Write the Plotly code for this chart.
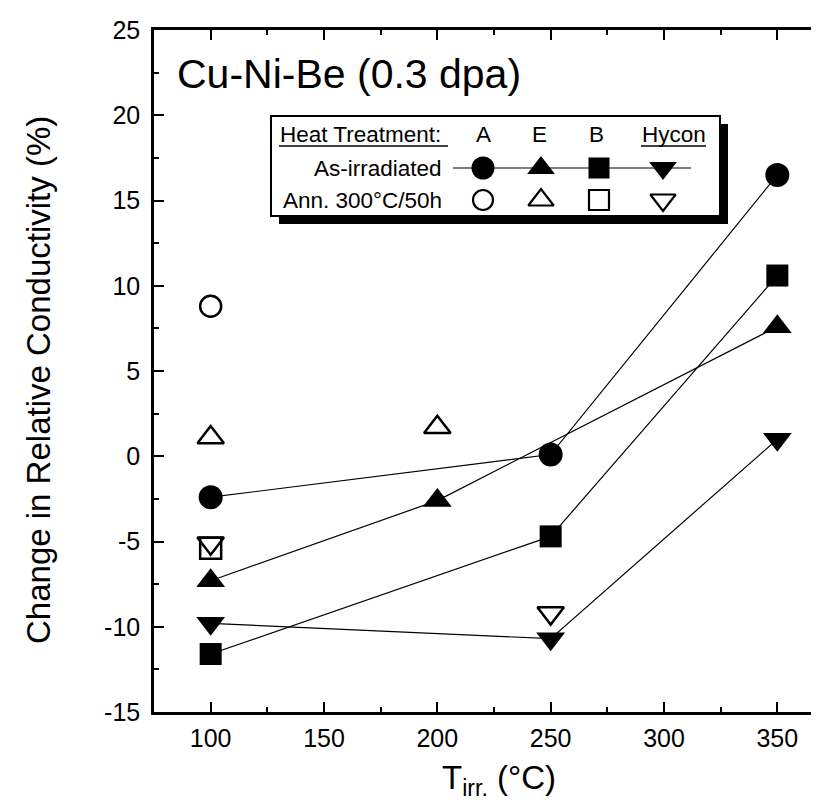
import plotly.graph_objects as go

# ---------------- data ----------------
x_A = [100, 250, 350]
y_A = [-2.4, 0.1, 16.5]
x_E = [100, 200, 350]
y_E = [-7.3, -2.6, 7.6]
x_B = [100, 250, 350]
y_B = [-11.6, -4.7, 10.6]
x_H = [100, 250, 350]
y_H = [-9.8, -10.7, 1.0]

x_A_ann = [100]
y_A_ann = [8.8]
x_E_ann = [100, 200]
y_E_ann = [1.1, 1.7]
x_B_ann = [100]
y_B_ann = [-5.4]
x_H_ann = [100, 250]
y_H_ann = [-5.1, -9.2]

x_ticks = [100, 150, 200, 250, 300, 350]
y_ticks = [-15, -10, -5, 0, 5, 10, 15, 20, 25]

# ---------------- layout constants ----------------
W, H = 819, 807
ML, MR, MT, MB = 146, 0, 22, 103
X0 = 75.0
X_PX_PER_UNIT = 680.0 / 300.0
X1 = X0 + (W - ML - MR) / X_PX_PER_UNIT
Y0, Y1 = -15.0, 25.0
PLOT_H = H - MT - MB
Y_PX_PER_UNIT = PLOT_H / (Y1 - Y0)

FONT = "Liberation Sans, Arial, Helvetica, sans-serif"


def px2x(px):
    return X0 + (px - ML) / X_PX_PER_UNIT


def px2y(py):
    return Y0 + (H - MB - py) / Y_PX_PER_UNIT


def px2paperx(px):
    return (px - ML) / (W - ML - MR)


def px2papery(py):
    return (H - MB - py) / PLOT_H


fig = go.Figure()

line_style = dict(color="black", width=1.2)

series = [
    (x_A, y_A, "circle", 24),
    (x_E, y_E, "triangle-up", 25),
    (x_B, y_B, "square", 22),
    (x_H, y_H, "triangle-down", 25),
]
for xs, ys, sym, sz in series:
    fig.add_trace(go.Scatter(
        x=xs, y=ys, mode="lines+markers",
        line=line_style,
        marker=dict(symbol=sym, size=sz, color="black", line=dict(width=0)),
        showlegend=False, cliponaxis=False,
    ))

open_series = [
    (x_A_ann, y_A_ann, "circle-open", 21),
    (x_E_ann, y_E_ann, "triangle-up-open", 23),
    (x_B_ann, y_B_ann, "square-open", 21),
    (x_H_ann, y_H_ann, "triangle-down-open", 23),
]
for xs, ys, sym, sz in open_series:
    fig.add_trace(go.Scatter(
        x=xs, y=ys, mode="markers",
        marker=dict(symbol=sym, size=sz, color="black", line=dict(width=2.5, color="black")),
        showlegend=False, cliponaxis=False,
    ))

# ---------------- custom legend box ----------------
box_l, box_t, box_r, box_b = 263, 108, 712, 208
shadow = 8
shapes = [
    dict(type="rect", xref="x", yref="y", layer="below",
         x0=px2x(box_l + shadow), x1=px2x(box_r + shadow),
         y0=px2y(box_t + shadow), y1=px2y(box_b + shadow),
         fillcolor="black", line=dict(width=0)),
    dict(type="rect", xref="x", yref="y", layer="below",
         x0=px2x(box_l), x1=px2x(box_r), y0=px2y(box_t), y1=px2y(box_b),
         fillcolor="white", line=dict(color="black", width=2)),
    # underlines
    dict(type="line", xref="x", yref="y", layer="below",
         x0=px2x(271), x1=px2x(440), y0=px2y(138), y1=px2y(138),
         line=dict(color="black", width=1.5)),
    dict(type="line", xref="x", yref="y", layer="below",
         x0=px2x(633), x1=px2x(698), y0=px2y(138), y1=px2y(138),
         line=dict(color="black", width=1.5)),
    # as-irradiated connecting line
    dict(type="line", xref="x", yref="y", layer="below",
         x0=px2x(445), x1=px2x(683), y0=px2y(160), y1=px2y(160),
         line=dict(color="black", width=1.2)),
]

leg_cols_px = [475, 533, 591, 655]
row2_py, row3_py = 160, 192
filled_syms = [("circle", 23), ("triangle-up", 24), ("square", 21), ("triangle-down", 24)]
open_syms = [("circle-open", 20), ("triangle-up-open", 22), ("square-open", 20), ("triangle-down-open", 22)]
for cx, (fs, fsz), (os_, osz) in zip(leg_cols_px, filled_syms, open_syms):
    fig.add_trace(go.Scatter(
        x=[px2x(cx)], y=[px2y(row2_py)], mode="markers", yaxis="y2",
        marker=dict(symbol=fs, size=fsz, color="black", line=dict(width=0)),
        showlegend=False, cliponaxis=False, hoverinfo="skip"))
    fig.add_trace(go.Scatter(
        x=[px2x(cx)], y=[px2y(row3_py)], mode="markers", yaxis="y2",
        marker=dict(symbol=os_, size=osz, color="black", line=dict(width=2.2, color="black")),
        showlegend=False, cliponaxis=False, hoverinfo="skip"))

leg_font = dict(family=FONT, size=22.5, color="black")
annotations = [
    dict(text="Heat Treatment:", x=px2x(270), y=px2y(126), xref="x", yref="y",
         xanchor="left", yanchor="middle", showarrow=False, font=leg_font),
    dict(text="A", x=px2x(475), y=px2y(126), xref="x", yref="y",
         xanchor="center", yanchor="middle", showarrow=False, font=leg_font),
    dict(text="E", x=px2x(531), y=px2y(126), xref="x", yref="y",
         xanchor="center", yanchor="middle", showarrow=False, font=leg_font),
    dict(text="B", x=px2x(588), y=px2y(126), xref="x", yref="y",
         xanchor="center", yanchor="middle", showarrow=False, font=leg_font),
    dict(text="Hycon", x=px2x(666), y=px2y(126), xref="x", yref="y",
         xanchor="center", yanchor="middle", showarrow=False, font=leg_font),
    dict(text="As-irradiated", x=px2x(436), y=px2y(row2_py), xref="x", yref="y",
         xanchor="right", yanchor="middle", showarrow=False, font=leg_font),
    dict(text="Ann. 300°C/50h", x=px2x(436), y=px2y(row3_py), xref="x", yref="y",
         xanchor="right", yanchor="middle", showarrow=False, font=leg_font),
    # title inside plot
    dict(text="Cu-Ni-Be (0.3 dpa)", x=px2x(167), y=px2y(66), xref="x", yref="y",
         xanchor="left", yanchor="middle", showarrow=False,
         font=dict(family=FONT, size=41, color="black")),
    # axis titles
    dict(text="T<sub>irr.</sub> (°C)", x=px2paperx(491), y=px2papery(772),
         xref="paper", yref="paper", xanchor="center", yanchor="middle",
         showarrow=False, font=dict(family=FONT, size=33, color="black")),
    dict(text="Change in Relative Conductivity (%)", x=px2paperx(30), y=px2papery(372),
         xref="paper", yref="paper", xanchor="center", yanchor="middle",
         textangle=-90, showarrow=False, font=dict(family=FONT, size=33, color="black")),
]

tick_font = dict(family=FONT, size=25, color="black")

fig.update_layout(
    width=W, height=H,
    margin=dict(l=ML, r=MR, t=MT, b=MB, pad=0),
    paper_bgcolor="white", plot_bgcolor="white",
    showlegend=False,
    shapes=shapes, annotations=annotations,
    xaxis=dict(
        range=[X0, X1], tickvals=x_ticks, ticktext=[str(v) for v in x_ticks],
        ticks="inside", ticklen=10, tickwidth=2, tickcolor="black",
        showline=True, linewidth=2.5, linecolor="black", mirror="ticks",
        showgrid=False, zeroline=False, tickfont=tick_font,
        minor=dict(ticks="inside", ticklen=5, tickwidth=2, tickcolor="black", dtick=25, tick0=75),
        ticklabelstandoff=2,
    ),
    yaxis=dict(
        range=[Y0, Y1], tickvals=y_ticks, ticktext=[str(v) for v in y_ticks],
        ticks="inside", ticklen=10, tickwidth=2, tickcolor="black",
        showline=True, linewidth=2.5, linecolor="black", mirror=False,
        showgrid=False, zeroline=False, tickfont=tick_font,
        minor=dict(ticks="inside", ticklen=5, tickwidth=2, tickcolor="black", dtick=2.5, tick0=-15),
        ticklabelstandoff=6,
    ),
    yaxis2=dict(
        range=[Y0, Y1], tickvals=y_ticks, overlaying="y", side="right", anchor="x",
        ticks="inside", ticklen=3, tickwidth=2, tickcolor="black",
        showline=False, showgrid=False, zeroline=False, showticklabels=False,
    ),
)

fig.write_html("out.html")
